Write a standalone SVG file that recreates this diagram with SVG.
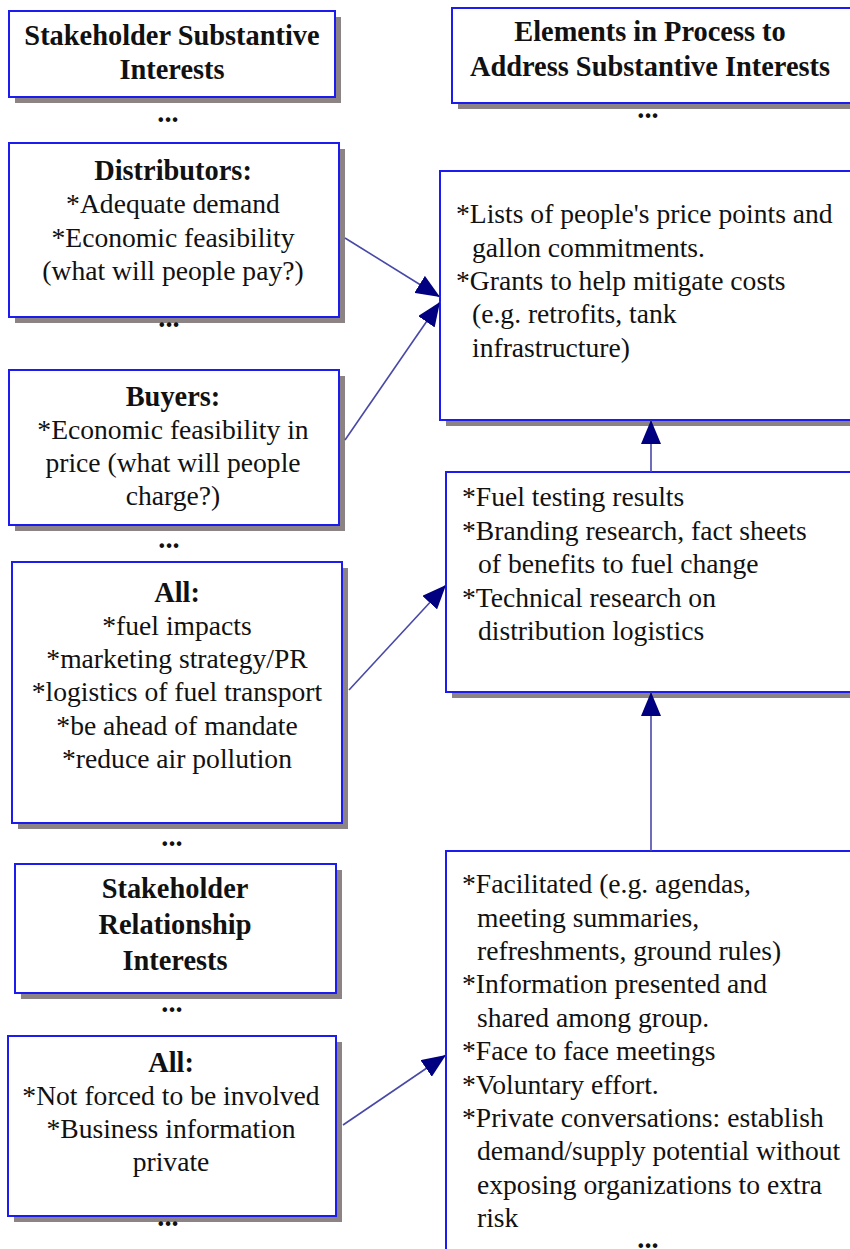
<svg xmlns="http://www.w3.org/2000/svg" width="850" height="1249" viewBox="0 0 850 1249">
  <style>
    .shadow { fill: #8c8484; }
    .box { fill: #ffffff; stroke: #1c1cf0; stroke-width: 2; }
    .t { font-family: "Liberation Serif", "Times New Roman", serif; font-size: 27.6px; fill: #111111; }
    .c { text-anchor: middle; }
    .b { font-weight: bold; font-size: 28.4px; }
    .link { stroke: #4848a8; stroke-width: 1.6; fill: none; marker-end: url(#head); }
  </style>
  <defs>
    <marker id="head" markerUnits="userSpaceOnUse" markerWidth="26" markerHeight="20" refX="24" refY="10" orient="auto">
      <path d="M0,0 L24,10 L0,20 Z" fill="#000080"/>
    </marker>
  </defs>
  <rect width="850" height="1249" fill="#ffffff"/>

  <!-- left column: stakeholder interests -->
  <g id="substantive-header">
    <rect class="shadow" x="15" y="17" width="326" height="86"/>
    <rect class="box" x="9" y="11" width="326" height="86"/>
    <text class="t c b" x="172" y="45">Stakeholder Substantive</text>
    <text class="t c b" x="172" y="79">Interests</text>
    <text class="t c b" x="168" y="122">...</text>
  </g>

  <g id="distributors">
    <rect class="shadow" x="15" y="149" width="330" height="174"/>
    <rect class="box" x="9" y="143" width="330" height="174"/>
    <text class="t c b" x="173" y="180">Distributors:</text>
    <text class="t c" x="173" y="213">*Adequate demand</text>
    <text class="t c" x="173" y="247">*Economic feasibility</text>
    <text class="t c" x="173" y="280">(what will people pay?)</text>
    <text class="t c b" x="169" y="327">...</text>
  </g>

  <g id="buyers">
    <rect class="shadow" x="15" y="376" width="330" height="155"/>
    <rect class="box" x="9" y="370" width="330" height="155"/>
    <text class="t c b" x="173" y="406">Buyers:</text>
    <text class="t c" x="173" y="439">*Economic feasibility in</text>
    <text class="t c" x="173" y="472">price (what will people</text>
    <text class="t c" x="173" y="505">charge?)</text>
    <text class="t c b" x="169" y="548">...</text>
  </g>

  <g id="all-substantive">
    <rect class="shadow" x="18" y="568" width="330" height="261"/>
    <rect class="box" x="12" y="562" width="330" height="261"/>
    <text class="t c b" x="177" y="602">All:</text>
    <text class="t c" x="177" y="635">*fuel impacts</text>
    <text class="t c" x="177" y="668">*marketing strategy/PR</text>
    <text class="t c" x="177" y="701">*logistics of fuel transport</text>
    <text class="t c" x="177" y="735">*be ahead of mandate</text>
    <text class="t c" x="177" y="768">*reduce air pollution</text>
    <text class="t c b" x="172" y="846">...</text>
  </g>

  <g id="relationship-header">
    <rect class="shadow" x="21" y="870" width="321" height="129"/>
    <rect class="box" x="15" y="864" width="321" height="129"/>
    <text class="t c b" x="175" y="898">Stakeholder</text>
    <text class="t c b" x="175" y="934">Relationship</text>
    <text class="t c b" x="175" y="970">Interests</text>
    <text class="t c b" x="172" y="1012">...</text>
  </g>

  <g id="all-relationship">
    <rect class="shadow" x="14" y="1042" width="328" height="180"/>
    <rect class="box" x="8" y="1036" width="328" height="180"/>
    <text class="t c b" x="171" y="1072">All:</text>
    <text class="t c" x="171" y="1105">*Not forced to be involved</text>
    <text class="t c" x="171" y="1138">*Business information</text>
    <text class="t c" x="171" y="1171">private</text>
    <text class="t c b" x="168" y="1226">...</text>
  </g>

  <!-- right column: process elements -->
  <g id="process-header">
    <rect class="shadow" x="458" y="14" width="410" height="95"/>
    <rect class="box" x="452" y="8" width="410" height="95"/>
    <text class="t c b" x="650" y="41">Elements in Process to</text>
    <text class="t c b" x="650" y="76">Address Substantive Interests</text>
    <text class="t c b" x="648" y="118">...</text>
  </g>

  <g id="price-and-grants">
    <rect class="shadow" x="446" y="177" width="420" height="249"/>
    <rect class="box" x="440" y="171" width="420" height="249"/>
    <text class="t" x="456" y="223">*Lists of people's price points and</text>
    <text class="t" x="472" y="257">gallon commitments.</text>
    <text class="t" x="456" y="290">*Grants to help mitigate costs</text>
    <text class="t" x="472" y="323">(e.g. retrofits, tank</text>
    <text class="t" x="472" y="357">infrastructure)</text>
  </g>

  <g id="research">
    <rect class="shadow" x="452" y="478" width="420" height="220"/>
    <rect class="box" x="446" y="472" width="420" height="220"/>
    <text class="t" x="462" y="506">*Fuel testing results</text>
    <text class="t" x="462" y="540">*Branding research, fact sheets</text>
    <text class="t" x="478" y="573">of benefits to fuel change</text>
    <text class="t" x="462" y="607">*Technical research on</text>
    <text class="t" x="478" y="640">distribution logistics</text>
  </g>

  <g id="process-practices">
    <rect class="shadow" x="452" y="857" width="420" height="420"/>
    <rect class="box" x="446" y="851" width="420" height="420"/>
    <text class="t" x="462" y="893">*Facilitated (e.g. agendas,</text>
    <text class="t" x="477" y="927">meeting summaries,</text>
    <text class="t" x="477" y="960">refreshments, ground rules)</text>
    <text class="t" x="462" y="993">*Information presented and</text>
    <text class="t" x="477" y="1027">shared among group.</text>
    <text class="t" x="462" y="1060">*Face to face meetings</text>
    <text class="t" x="462" y="1094">*Voluntary effort.</text>
    <text class="t" x="462" y="1127">*Private conversations: establish</text>
    <text class="t" x="477" y="1160">demand/supply potential without</text>
    <text class="t" x="477" y="1194">exposing organizations to extra</text>
    <text class="t" x="477" y="1227">risk</text>
    <text class="t c b" x="648" y="1248">...</text>
  </g>

  <!-- connectors -->
  <g id="connectors">
    <line class="link" x1="345" y1="238" x2="440" y2="297"/>
    <line class="link" x1="345" y1="440" x2="440" y2="302"/>
    <line class="link" x1="349" y1="690" x2="446" y2="585"/>
    <line class="link" x1="343" y1="1125" x2="446" y2="1055"/>
    <line class="link" x1="651" y1="472" x2="651" y2="420"/>
    <line class="link" x1="651" y1="851" x2="651" y2="692"/>
  </g>
</svg>
